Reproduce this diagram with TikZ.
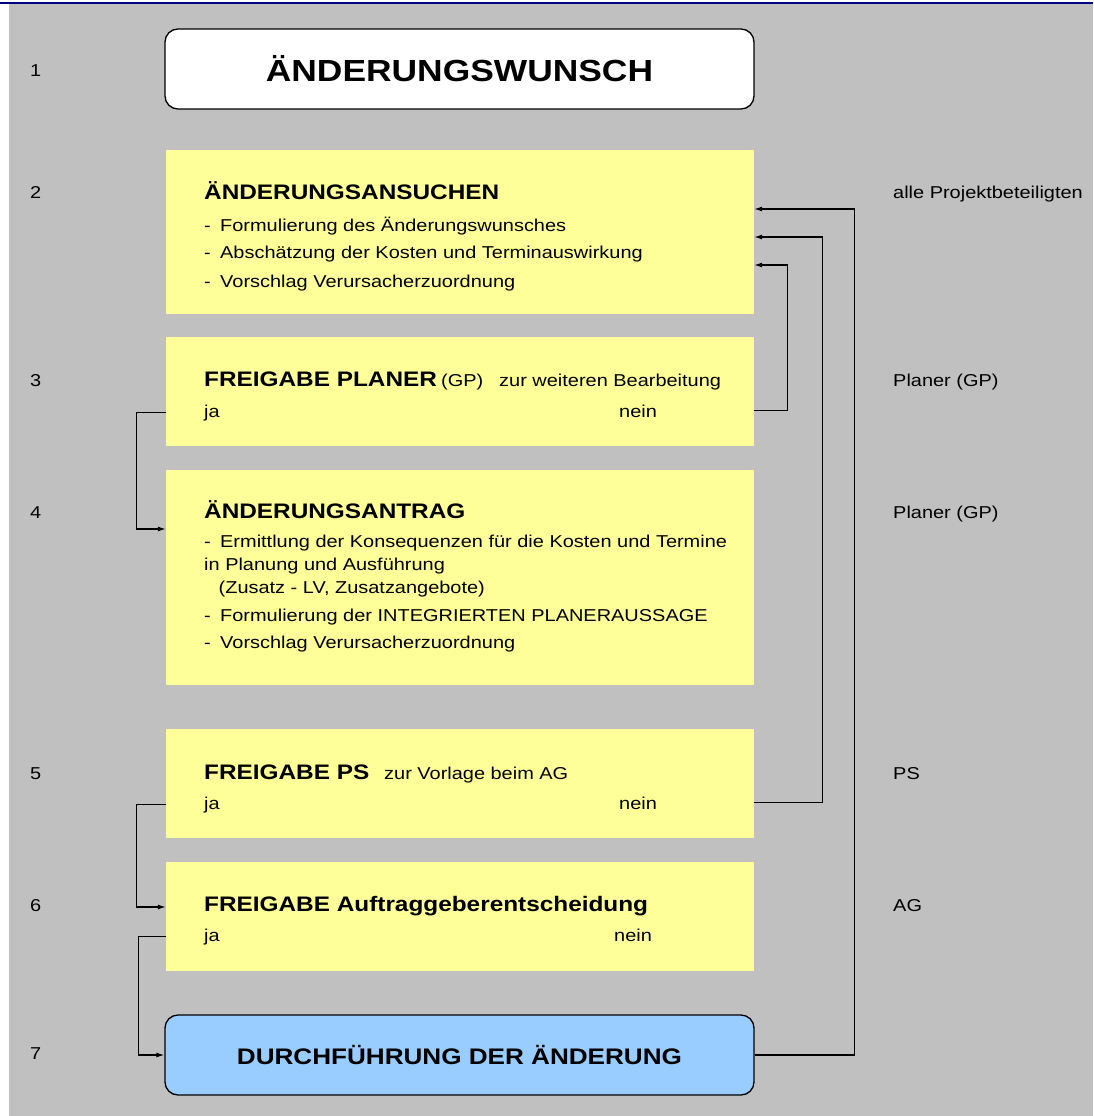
\documentclass[tikz,border=0pt]{standalone}
\usepackage{fontspec}
\setmainfont[FakeStretch=1.16]{Liberation Sans}
\usepackage{xcolor}
\usepackage{tikz}
\usetikzlibrary{arrows.meta}
\definecolor{grau}{HTML}{C0C0C0}
\definecolor{gelb}{HTML}{FFFF99}
\definecolor{hellblau}{HTML}{99CCFF}
\definecolor{marine}{HTML}{000080}
\newcommand{\strich}{\makebox[16pt][l]{-}}

\begin{document}
\begin{tikzpicture}[x=1pt,y=-1pt,
  gelbbox/.style={fill=gelb, minimum width=588pt, inner sep=0pt},
  rundbox/.style={draw, line width=1.3pt, rounded corners=13pt, minimum width=589pt, minimum height=80pt, inner sep=0pt},
  zeile/.style={anchor=base west, inner sep=0pt, font=\fontsize{17.2}{20}\selectfont},
  kopf/.style={zeile, font=\fontsize{21}{24}\selectfont\bfseries},
  pfeil/.style={-{Latex[length=8pt,width=5pt]}, line width=1.2pt}]
\useasboundingbox (0,0) rectangle (1093,1116);
\fill[grau] (9,4) rectangle (1093,1116);
\draw[marine, line width=2.5pt] (0,2.8) -- (1093,2.8);

% Kaesten
\node[rundbox, fill=white, font=\fontsize{30.5}{32}\selectfont\bfseries] (b1) at (459.5,69) {ÄNDERUNGSWUNSCH};
\node[gelbbox, minimum height=164pt] (b2) at (460,232) {};
\node[gelbbox, minimum height=109pt] (b3) at (460,391.5) {};
\node[gelbbox, minimum height=215pt] (b4) at (460,577.5) {};
\node[gelbbox, minimum height=109pt] (b5) at (460,783.5) {};
\node[gelbbox, minimum height=109pt] (b6) at (460,916.5) {};
\node[rundbox, fill=hellblau, font=\fontsize{22.5}{26}\selectfont\bfseries] (b7) at (459.5,1055) {DURCHFÜHRUNG DER ÄNDERUNG};

% Texte in den Kaesten
\node[kopf] (t2) at (204,199) {ÄNDERUNGSANSUCHEN};
\node[zeile] (t2a) at (204,231) {\strich Formulierung des Änderungswunsches};
\node[zeile] (t2b) at (204,258.5) {\strich Abschätzung der Kosten und Terminauswirkung};
\node[zeile] (t2c) at (204,287) {\strich Vorschlag Verursacherzuordnung};

\node[kopf] (t3) at (204,386) {FREIGABE PLANER};
\node[zeile] (gp3) at (441,386) {(GP)};
\node[zeile] (z3) at (499,386) {zur weiteren Bearbeitung};
\node[zeile] (ja3) at (204,417) {ja};
\node[zeile] (nein3) at (619,417) {nein};

\node[kopf] (t4) at (204,518) {ÄNDERUNGSANTRAG};
\node[zeile] (t4a) at (204,547) {\strich Ermittlung der Konsequenzen für die Kosten und Termine};
\node[zeile] (t4b) at (204,570) {in Planung und Ausführung};
\node[zeile] (t4c) at (218.5,593) {(Zusatz - LV, Zusatzangebote)};
\node[zeile] (t4d) at (204,621.5) {\strich Formulierung der INTEGRIERTEN PLANERAUSSAGE};
\node[zeile] (t4e) at (204,648) {\strich Vorschlag Verursacherzuordnung};

\node[kopf] (t5) at (204,779) {FREIGABE PS};
\node[zeile] (z5) at (384,779) {zur Vorlage beim AG};
\node[zeile] (ja5) at (204,809) {ja};
\node[zeile] (nein5) at (619,809) {nein};

\node[kopf] (t6) at (204,911) {FREIGABE Auftraggeberentscheidung};
\node[zeile] (ja6) at (204,941) {ja};
\node[zeile] (nein6) at (614,941) {nein};

% Nummern und Beteiligte
\foreach \n/\y in {1/77,2/198,3/386,4/518,5/779,6/911,7/1059}
  \node[zeile] (nr\n) at (30,\y) {\n};
\node[zeile] (r2) at (893,198) {alle Projektbeteiligten};
\node[zeile] (r3) at (893,386) {Planer (GP)};
\node[zeile] (r4) at (893,518) {Planer (GP)};
\node[zeile] (r5) at (893,779) {PS};
\node[zeile] (r6) at (893,911) {AG};

% Rueckfuehrungen (nein)
\draw[pfeil] (b3.east |- nein3) -- ++(33,0) |- (b2.east |- 0,265);
\draw[pfeil] (b5.east |- nein5) -- ++(68,0) |- (b2.east |- 0,237);
\draw[pfeil] (b7.east) -- ++(100,0) |- (b2.east |- 0,209);

% Weiterleitungen (ja)
\draw[pfeil] (b3.west |- ja3) -- ++(-29,0) |- (b4.west |- 0,529);
\draw[pfeil] (b5.west |- ja5) -- ++(-29,0) |- (b6.west |- 0,907);
\draw[pfeil] (b6.west |- ja6) -- ++(-27,0) |- (b7.west);
\end{tikzpicture}
\end{document}
